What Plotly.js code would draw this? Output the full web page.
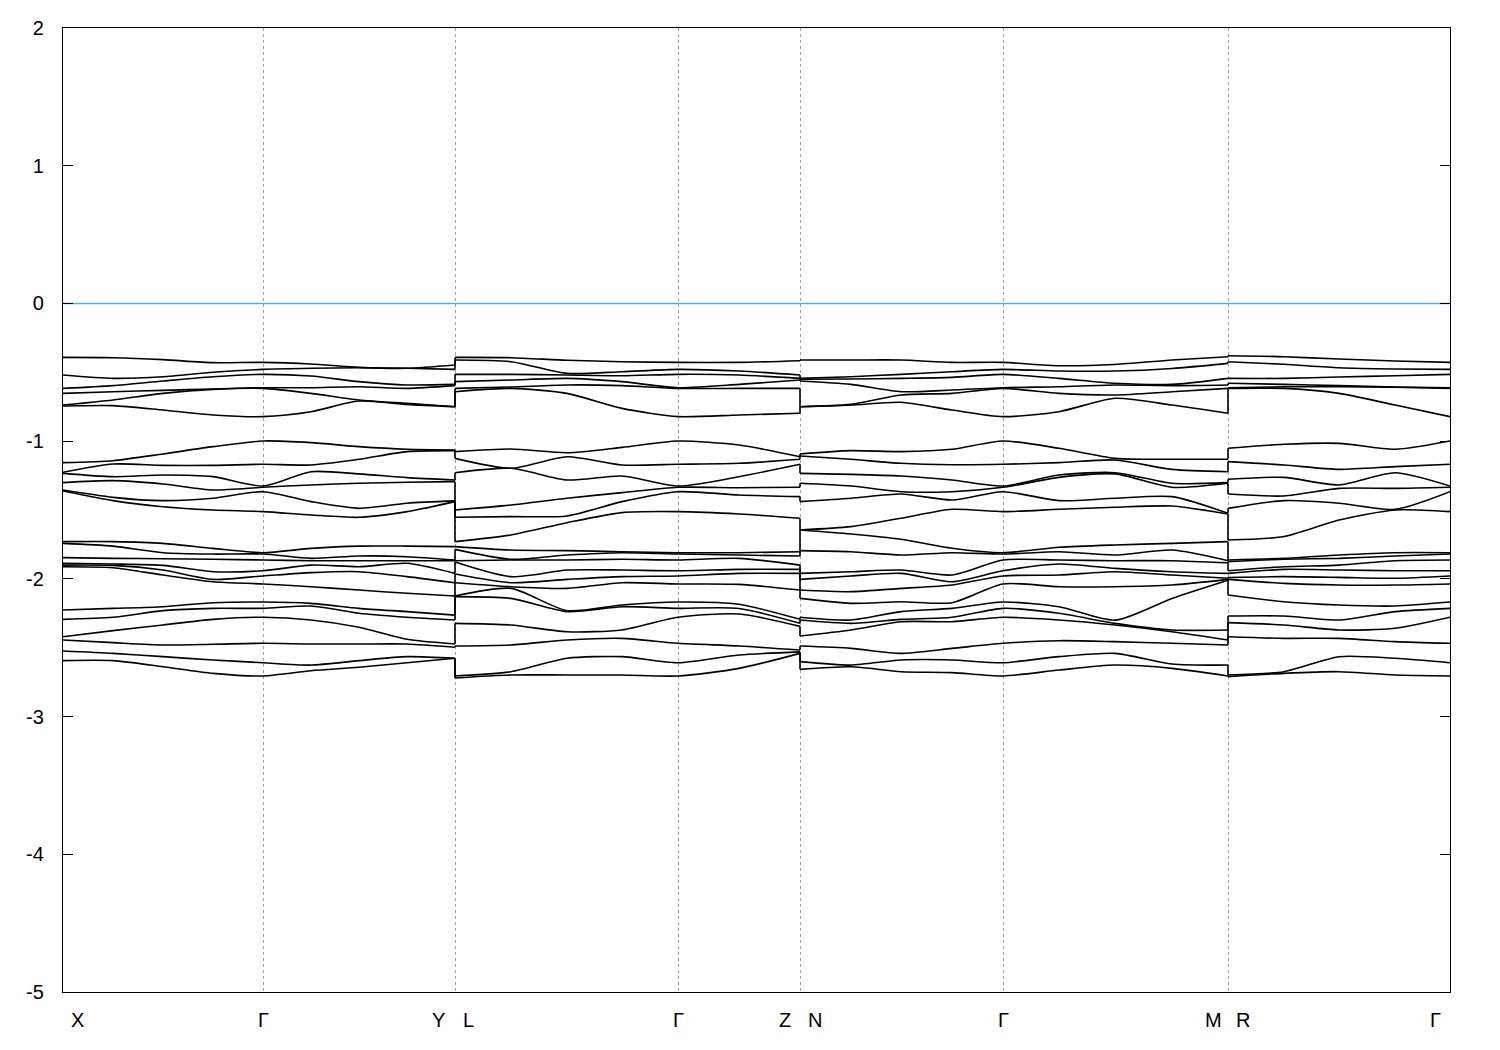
<!DOCTYPE html>
<html>
<head>
<meta charset="utf-8">
<script src="https://cdn.plot.ly/plotly-3.0.1.min.js"></script>
<style>html,body{margin:0;padding:0;background:#fff;}#plot{width:1500px;height:1050px;}</style>
</head>
<body>
<div id="plot"></div>
<script>
// k-path positions of the sample points (arbitrary path-length units)
const kPoints = [0, 0.5, 1.0, 1.5, 2.0, 2.48, 2.96, 3.44, 3.92,
                 3.92, 4.48, 5.04, 5.59, 6.15, 6.76, 7.37,
                 7.37, 7.88, 8.38, 8.89, 9.40, 9.96, 10.52, 11.09, 11.65,
                 11.65, 12.21, 12.76, 13.32, 13.87];
// high-symmetry nodes and their labels
const kNodes = [0, 2.00, 3.92, 3.92, 6.15, 7.37, 7.37, 9.40, 11.65, 11.65, 13.87];
const nodeLabels = ['X', 'Γ', 'Y', 'L', 'Γ', 'Z', 'N', 'Γ', 'M', 'R', 'Γ'];
const yTickVals = [-5, -4, -3, -2, -1, 0, 1, 2];
const yTickText = ['-5', '-4', '-3', '-2', '-1', '0', '1', '2'];
const fermiLevel = 0;

// band energies (eV) at each sample point (24 bands)
const eGamma = [-0.428,-0.479,-0.515,-0.612,-0.617,-0.822,-0.999,-1.168,-1.326,-1.335,-1.367,-1.512,-1.810,-1.820,-1.863,-1.941,-1.979,-2.037,-2.168,-2.214,-2.279,-2.468,-2.609,-2.705];
const e00 = [-0.392,-0.520,-0.617,-0.653,-0.738,-0.745,-1.156,-1.226,-1.234,-1.301,-1.355,-1.362,-1.730,-1.742,-1.846,-1.887,-1.900,-1.912,-2.226,-2.294,-2.420,-2.444,-2.524,-2.594];
const e01 = [-0.394,-0.544,-0.597,-0.641,-0.701,-0.742,-1.142,-1.166,-1.258,-1.287,-1.408,-1.432,-1.730,-1.762,-1.851,-1.892,-1.902,-1.919,-2.214,-2.279,-2.376,-2.463,-2.541,-2.594];
const e02 = [-0.408,-0.532,-0.563,-0.631,-0.653,-0.774,-1.093,-1.176,-1.246,-1.311,-1.432,-1.476,-1.742,-1.810,-1.854,-1.902,-1.936,-1.972,-2.202,-2.231,-2.335,-2.480,-2.565,-2.638];
const e03 = [-0.430,-0.500,-0.532,-0.621,-0.624,-0.810,-1.040,-1.176,-1.258,-1.355,-1.415,-1.500,-1.779,-1.820,-1.858,-1.948,-2.004,-2.021,-2.173,-2.214,-2.294,-2.475,-2.589,-2.686];
const e05 = [-0.440,-0.471,-0.527,-0.612,-0.653,-0.786,-1.011,-1.173,-1.222,-1.318,-1.439,-1.536,-1.779,-1.851,-1.868,-1.900,-1.955,-2.057,-2.178,-2.197,-2.299,-2.473,-2.626,-2.667];
const e06 = [-0.464,-0.467,-0.568,-0.605,-0.701,-0.709,-1.040,-1.132,-1.238,-1.306,-1.488,-1.553,-1.762,-1.834,-1.868,-1.912,-1.948,-2.081,-2.214,-2.250,-2.352,-2.473,-2.594,-2.642];
const e07 = [-0.471,-0.471,-0.592,-0.617,-0.726,-0.733,-1.059,-1.076,-1.265,-1.299,-1.451,-1.512,-1.762,-1.839,-1.868,-1.887,-1.984,-2.105,-2.238,-2.279,-2.439,-2.473,-2.565,-2.609];
const e08 = [-0.447,-0.479,-0.588,-0.597,-0.750,-0.750,-1.064,-1.069,-1.282,-1.294,-1.434,-1.439,-1.766,-1.863,-1.868,-1.960,-2.028,-2.125,-2.263,-2.299,-2.473,-2.497,-2.577,-2.577];
const e09 = [-0.392,-0.411,-0.515,-0.568,-0.617,-0.641,-1.076,-1.125,-1.229,-1.500,-1.553,-1.730,-1.766,-1.786,-1.868,-1.878,-1.965,-2.028,-2.125,-2.129,-2.323,-2.488,-2.705,-2.720];
const e10 = [-0.394,-0.423,-0.515,-0.556,-0.607,-0.617,-1.057,-1.197,-1.197,-1.464,-1.548,-1.681,-1.791,-1.858,-1.863,-1.984,-2.028,-2.057,-2.069,-2.142,-2.335,-2.480,-2.674,-2.698];
const e11 = [-0.413,-0.508,-0.520,-0.544,-0.592,-0.653,-1.084,-1.113,-1.282,-1.415,-1.543,-1.592,-1.795,-1.827,-1.863,-1.936,-2.004,-2.069,-2.231,-2.238,-2.384,-2.444,-2.577,-2.698];
const e12 = [-0.423,-0.496,-0.525,-0.568,-0.597,-0.762,-1.045,-1.173,-1.253,-1.374,-1.439,-1.519,-1.803,-1.810,-1.858,-1.936,-1.984,-2.028,-2.190,-2.202,-2.371,-2.432,-2.565,-2.698];
const e14 = [-0.428,-0.491,-0.520,-0.588,-0.617,-0.810,-1.028,-1.161,-1.258,-1.338,-1.391,-1.529,-1.810,-1.827,-1.851,-1.931,-1.960,-2.040,-2.185,-2.215,-2.255,-2.488,-2.553,-2.650];
const e15 = [-0.416,-0.520,-0.544,-0.556,-0.617,-0.798,-1.113,-1.132,-1.168,-1.335,-1.403,-1.560,-1.803,-1.834,-1.900,-1.931,-1.960,-2.081,-2.294,-2.323,-2.345,-2.517,-2.530,-2.541];
const e16 = [-0.411,-0.544,-0.551,-0.563,-0.750,-0.750,-1.093,-1.108,-1.234,-1.306,-1.439,-1.645,-1.645,-1.795,-1.960,-2.004,-2.081,-2.142,-2.279,-2.299,-2.415,-2.488,-2.601,-2.657];
const e17 = [-0.411,-0.532,-0.549,-0.588,-0.733,-0.738,-1.069,-1.132,-1.241,-1.326,-1.415,-1.621,-1.674,-1.803,-1.948,-1.979,-2.093,-2.178,-2.299,-2.323,-2.371,-2.505,-2.626,-2.638];
const e18 = [-0.411,-0.515,-0.544,-0.641,-0.665,-0.718,-1.076,-1.161,-1.253,-1.367,-1.384,-1.560,-1.713,-1.827,-1.936,-1.960,-2.069,-2.166,-2.238,-2.294,-2.311,-2.541,-2.589,-2.674];
const e19 = [-0.428,-0.496,-0.537,-0.629,-0.653,-0.774,-1.059,-1.171,-1.282,-1.367,-1.427,-1.495,-1.778,-1.810,-1.972,-2.021,-2.045,-2.173,-2.214,-2.279,-2.311,-2.505,-2.589,-2.681];
const e21 = [-0.452,-0.491,-0.544,-0.605,-0.653,-0.786,-1.052,-1.156,-1.246,-1.263,-1.432,-1.495,-1.771,-1.803,-1.863,-1.892,-1.972,-2.057,-2.202,-2.250,-2.299,-2.449,-2.565,-2.662];
const e22 = [-0.443,-0.491,-0.580,-0.592,-0.665,-0.689,-1.125,-1.137,-1.229,-1.238,-1.415,-1.480,-1.754,-1.827,-1.868,-1.924,-1.948,-2.057,-2.300,-2.323,-2.335,-2.456,-2.541,-2.626];
const e23 = [-0.411,-0.472,-0.588,-0.597,-0.641,-0.738,-1.132,-1.205,-1.306,-1.335,-1.403,-1.471,-1.742,-1.791,-1.868,-1.948,-1.972,-2.045,-2.142,-2.371,-2.384,-2.468,-2.618,-2.650];
const e24 = [-0.387,-0.435,-0.544,-0.592,-0.617,-0.798,-1.132,-1.222,-1.301,-1.306,-1.524,-1.529,-1.730,-1.868,-1.883,-1.960,-1.996,-2.004,-2.010,-2.371,-2.444,-2.480,-2.626,-2.705];
const e25 = [-0.380,-0.423,-0.544,-0.580,-0.612,-0.617,-1.052,-1.149,-1.277,-1.384,-1.488,-1.718,-1.863,-1.875,-1.941,-1.960,-1.991,-2.004,-2.117,-2.270,-2.318,-2.420,-2.698,-2.710];
const e26 = [-0.387,-0.442,-0.544,-0.588,-0.605,-0.617,-1.023,-1.173,-1.263,-1.398,-1.432,-1.693,-1.851,-1.858,-1.912,-1.931,-1.984,-2.033,-2.166,-2.270,-2.335,-2.432,-2.674,-2.686];
const e27 = [-0.404,-0.467,-0.534,-0.597,-0.605,-0.653,-1.016,-1.205,-1.318,-1.343,-1.451,-1.573,-1.827,-1.851,-1.900,-1.936,-1.989,-2.045,-2.190,-2.299,-2.371,-2.432,-2.565,-2.674];
const e28 = [-0.418,-0.476,-0.525,-0.607,-0.609,-0.738,-1.059,-1.185,-1.229,-1.343,-1.495,-1.500,-1.810,-1.834,-1.868,-1.941,-1.996,-2.045,-2.197,-2.238,-2.359,-2.456,-2.577,-2.698];

const columns = [e00, e01, e02, e03, eGamma, e05, e06, e07, e08,
                 e09, e10, e11, e12, eGamma, e14, e15,
                 e16, e17, e18, e19, eGamma, e21, e22, e23, e24,
                 e25, e26, e27, e28, eGamma];

// ---- build band traces ----
const nBands = 24;
const sortedCols = columns.map(c => c.slice().sort((a, b) => b - a));
const bands = [];
for (let b = 0; b < nBands; b++) bands.push(sortedCols.map(c => c[b]));

const pieces = [[0, 8], [9, 15], [16, 24], [25, 29]];
const jumps = [[8, 9], [15, 16], [24, 25]];
const traces = [];
const lineStyle = {color: '#000000', width: 1.6, shape: 'spline', smoothing: 0.7};
bands.forEach(band => {
  pieces.forEach(([s, e]) => {
    traces.push({x: kPoints.slice(s, e + 1), y: band.slice(s, e + 1), type: 'scatter', mode: 'lines',
                 line: lineStyle, hoverinfo: 'skip', showlegend: false});
  });
});
const jx = [], jy = [];
bands.forEach(band => {
  jumps.forEach(([a, b]) => { jx.push(kPoints[a], kPoints[b], null); jy.push(band[a], band[b], null); });
});
traces.push({x: jx, y: jy, type: 'scatter', mode: 'lines', line: {color: '#000000', width: 1.6},
             hoverinfo: 'skip', showlegend: false});
// Fermi level
const kMax = kPoints[kPoints.length - 1];
traces.push({x: [kPoints[0], kMax], y: [fermiLevel, fermiLevel], type: 'scatter', mode: 'lines',
             line: {color: '#4fb0e6', width: 1.6}, hoverinfo: 'skip', showlegend: false});

// label offsets (px) so that labels sit either side of the discontinuity lines
const labelShift = [14, 0, -17, 13, 0, -15, 15, 0, -15, 15, -15];
const annotations = kNodes.map((k, i) => ({
  x: k, y: 0, xref: 'x', yref: 'paper', text: nodeLabels[i], showarrow: false,
  xshift: labelShift[i], yshift: -28, yanchor: 'middle', xanchor: 'center',
  font: {family: 'Liberation Sans, Arial, sans-serif', size: 20, color: '#000'}
}));

const uniqueNodes = kNodes.filter((v, i) => kNodes.indexOf(v) === i);
const layout = {
  width: 1500, height: 1050,
  margin: {l: 63, r: 50, t: 28, b: 58},
  paper_bgcolor: '#ffffff', plot_bgcolor: '#ffffff',
  showlegend: false,
  font: {family: 'Liberation Sans, Arial, sans-serif', size: 20, color: '#000'},
  xaxis: {
    range: [kPoints[0], kMax], tickvals: uniqueNodes, ticktext: uniqueNodes.map(() => ''),
    showgrid: true, gridcolor: '#a0a0a0', gridwidth: 1, griddash: 'dot',
    zeroline: false, showline: true, linecolor: '#000', linewidth: 1.2, mirror: true,
    ticks: '', fixedrange: true
  },
  yaxis: {
    range: [-5, 2], tickvals: yTickVals, ticktext: yTickText,
    showgrid: false, zeroline: false, showline: true, linecolor: '#000', linewidth: 1.2,
    mirror: 'ticks', ticks: 'inside', ticklen: 10, tickcolor: '#000', tickwidth: 1.2,
    ticklabelstandoff: 14, tickfont: {size: 20}, fixedrange: true
  },
  annotations: annotations
};
Plotly.newPlot('plot', traces, layout, {staticPlot: true, displayModeBar: false});
</script>
</body>
</html>
